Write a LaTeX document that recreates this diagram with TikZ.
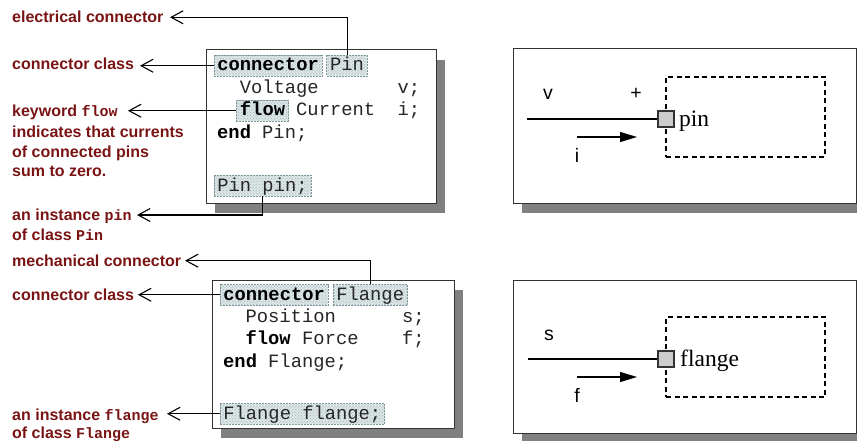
\documentclass[tikz,border=0pt]{standalone}
\usepackage{fontspec}
\setmainfont{Liberation Serif}
\setmonofont{Liberation Mono}
\newfontfamily\labfont{Liberation Sans}
\usetikzlibrary{arrows.meta,patterns}

\definecolor{labred}{RGB}{122,20,20}
\definecolor{hlfill}{RGB}{220,229,229}
\definecolor{hldot}{RGB}{165,185,187}
\definecolor{hlborder}{RGB}{125,150,155}
\definecolor{shadowgray}{RGB}{128,128,128}
\definecolor{sqfill}{RGB}{205,205,205}

\newcommand\mycodefont{\ttfamily\fontsize{18.8}{22}\selectfont}
\newcommand\lmono[1]{{\ttfamily\fontsize{15}{18}\selectfont\bfseries #1}}

\begin{document}
\begin{tikzpicture}[x=1pt,y=-1pt,
  lab/.style={anchor=base west, inner sep=0pt, text=labred,
    font=\labfont\fontsize{16}{20}\selectfont\bfseries},
  code/.style={anchor=base west, inner sep=0pt, font=\mycodefont, text=black!85},
  kw/.style={code, font=\mycodefont\bfseries, text=black},
  hl/.style={code, inner xsep=3.5pt, inner ysep=3pt, text height=12.5pt, text depth=2pt,
    draw=hlborder, line width=0.7pt, dash pattern=on 2pt off 1pt,
    preaction={fill=hlfill}, pattern=crosshatch dots, pattern color=hldot},
  hlkw/.style={hl, font=\mycodefont\bfseries, text=black},
  boxline/.style={draw=black!80, line width=1pt, fill=white},
  shadow/.style={fill=shadowgray},
  callout/.style={draw=black, line width=1.1pt, -{Straight Barb[length=12pt,width=13pt,line width=1.1pt]}},
  dashbox/.style={draw=black, line width=1.3pt, dash pattern=on 5pt off 3.5pt,
    minimum width=159pt, minimum height=80pt, inner sep=0pt},
  port/.style={draw=black!80, fill=sqfill, line width=1.3pt, minimum size=16pt, inner sep=0pt},
  wire/.style={draw=black, line width=1.1pt},
  flowarrow/.style={draw=black, line width=1.2pt, -{Triangle[length=17pt,width=10pt]}},
  var/.style={anchor=base, inner sep=0pt, font=\labfont\fontsize{19.5}{22}\selectfont},
  portlab/.style={anchor=base west, inner sep=0pt, font=\rmfamily\fontsize{23.5}{26}\selectfont}
]
\useasboundingbox (0,0) rectangle (857,441);

% ---------- top code box ----------
\fill[shadow] (215,60) rectangle (445,213);
\path[boxline] (206,50) rectangle (436,203);
\node[hlkw] (c1kw) at (213.5,71) {connector};
\node[hl] (c1name) at (326.3,71) {Pin};
\node[code] (c1volt) at (239.6,94) {Voltage};
\node[code] (c1v) at (397.5,94) {v;};
\node[hlkw] (c1flow) at (236.1,116) {flow};
\node[code] (c1cur) at (296,116) {Current};
\node[code] (c1i) at (397.5,116) {i;};
\node[kw] (c1end) at (217,139) {end};
\node[code] (c1endname) at (262,139) {Pin;};
\node[hl] (c1inst) at (213.5,191) {Pin pin;};

% ---------- bottom code box ----------
\fill[shadow] (221,290) rectangle (463,438);
\path[boxline] (212,280) rectangle (454,428);
\node[hlkw] (c2kw) at (219.5,300) {connector};
\node[hl] (c2name) at (332.5,300) {Flange};
\node[code] (c2pos) at (245.4,322) {Position};
\node[code] (c2s) at (402,322) {s;};
\node[kw] (c2flow) at (245.4,344) {flow};
\node[code] (c2force) at (302,344) {Force};
\node[code] (c2f) at (402,344) {f;};
\node[kw] (c2end) at (223,367) {end};
\node[code] (c2endname) at (268,367) {Flange;};
\node[hl] (c2inst) at (219.5,419) {Flange flange;};

% ---------- labels ----------
\node[lab] (l1) at (12,22.7) {electrical connector};
\node[lab] (l2) at (12,70) {connector class};
\node[lab] (l3) at (12,117) {keyword \lmono{flow}};
\node[lab] (l3b) at (12,137.7) {indicates that currents};
\node[lab] (l3c) at (12,157.7) {of connected pins};
\node[lab] (l3d) at (12,176.7) {sum to zero.};
\node[lab] (l4) at (12,220.7) {an instance \lmono{pin}};
\node[lab] (l4b) at (12,240.7) {of class \lmono{Pin}};
\node[lab] (l5) at (12,266) {mechanical connector};
\node[lab] (l6) at (12,300) {connector class};
\node[lab] (l7) at (12,420) {an instance \lmono{flange}};
\node[lab] (l7b) at (12,438.5) {of class \lmono{Flange}};

% ---------- callout tips ----------
\coordinate (t1) at (170,17.3);
\coordinate (t2) at (140,65);
\coordinate (t3) at (128,112);
\coordinate (t4) at (137,215);
\coordinate (t5) at (185,260.7);
\coordinate (t6) at (138,296);
\coordinate (t7) at (167,414);

\draw[callout] (c1name.north) |- (t1);
\draw[callout] (c1kw.west) -- (c1kw.west -| t2);
\draw[callout] (c1flow.west) -- (c1flow.west -| t3);
\draw[callout] (c1inst.south) |- (t4);
\draw[callout] (c2name.north) |- (t5);
\draw[callout] (c2kw.west) -- (c2kw.west -| t6);
\draw[callout] (c2inst.west) -- (c2inst.west -| t7);

% ---------- top right diagram ----------
\fill[shadow] (522,59) rectangle (857,213);
\path[boxline] (513,49) rectangle (856,203);
\node[dashbox] (comp1) at (745.5,117) {};
\coordinate (w1) at (527,119);
\node[port] (pin1) at (666,119) {};
\draw[wire] (w1) -- (pin1.west);
\node[portlab] (pin1lab) at (679,126.7) {pin};
\coordinate (a1s) at (577,137);
\coordinate (a1e) at (637,137);
\draw[flowarrow] (a1s) -- (a1e);
\node[var] (v1) at (548,100) {v};
\node[var, anchor=center] (plus1) at (636,94) {+};
\node[var] (i1) at (577,163) {i};

% ---------- bottom right diagram ----------
\fill[shadow] (522,290) rectangle (857,441);
\path[boxline] (513,280) rectangle (856,433);
\node[dashbox] (comp2) at (745.5,357) {};
\coordinate (w2) at (528,359);
\node[port] (pin2) at (666,359) {};
\draw[wire] (w2) -- (pin2.west);
\node[portlab] (pin2lab) at (680,366) {flange};
\coordinate (a2s) at (577,377);
\coordinate (a2e) at (637,377);
\draw[flowarrow] (a2s) -- (a2e);
\node[var] (s2) at (549,340) {s};
\node[var] (f2) at (577,402.7) {f};
\end{tikzpicture}
\end{document}
